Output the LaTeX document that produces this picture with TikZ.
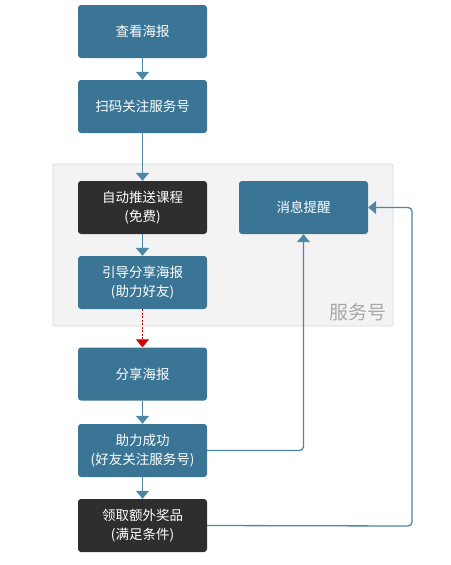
\documentclass[tikz,border=0pt]{standalone}
\usepackage{fontspec}
\setmainfont{Noto Sans CJK SC}
\usetikzlibrary{arrows.meta,positioning}
\definecolor{boxblue}{HTML}{3A7595}
\definecolor{boxdark}{HTML}{2E2E2E}
\definecolor{linecol}{HTML}{4E86A6}
\definecolor{grpfill}{HTML}{F3F3F3}
\definecolor{grpline}{HTML}{D8D8D8}
\definecolor{grptext}{HTML}{A8A8A8}
\begin{document}
\begin{tikzpicture}[x=1pt,y=-1pt,
  stepbox/.style={rounded corners=3pt, minimum width=129pt, minimum height=53pt,
    inner sep=0pt, align=center, text=white, font=\fontsize{13.5}{19}\selectfont, draw=none},
  bluebox/.style={stepbox, fill=boxblue},
  darkbox/.style={stepbox, fill=boxdark},
  conn/.style={draw=linecol, line width=1.3pt, -{Triangle[width=13pt,length=8pt]}},
  redconn/.style={draw=red!80!black, line width=1.1pt, dash pattern=on 2pt off 1.5pt, -{Triangle[width=13pt,length=8pt]}}
]
\useasboundingbox (0,0) rectangle (450,565);
% group container
\node[draw=grpline, fill=grpfill, line width=0.8pt, rounded corners=2pt,
  minimum width=340pt, minimum height=162pt, inner sep=0pt] (grp) at (223,245) {};
\node[text=grptext, font=\fontsize{19}{21}\selectfont, anchor=east] (grplabel) at (390,312) {服务号};
% boxes
\node[bluebox] (b1) at (142.5,31.5) {查看海报};
\node[bluebox] (b2) at (142.5,106.5) {扫码关注服务号};
\node[darkbox] (b3) at (142.5,207.5) {自动推送课程\\(免费)};
\node[bluebox] (b4) at (142.5,282.5) {引导分享海报\\(助力好友)};
\node[bluebox] (msg) at (303.5,207.5) {消息提醒};
\node[bluebox] (b5) at (142.5,374) {分享海报};
\node[bluebox] (b6) at (142.5,450.5) {助力成功\\(好友关注服务号)};
\node[darkbox] (b7) at (142.5,525.5) {领取额外奖品\\(满足条件)};
% connectors
\draw[conn] (b1) -- (b2);
\draw[conn] (b2) -- (b3);
\draw[conn] (b3) -- (b4);
\draw[redconn] (b4) -- (b5);
\draw[conn] (b5) -- (b6);
\draw[conn] (b6) -- (b7);
\draw[conn, rounded corners=4pt] (b6.east) -- (msg.south |- b6.east) -- (msg.south);
\coordinate (rc) at (412,526);
\draw[conn, rounded corners=4pt] (b7.east) -- (rc) -- (rc |- msg.east) -- (msg.east);
\end{tikzpicture}
\end{document}
